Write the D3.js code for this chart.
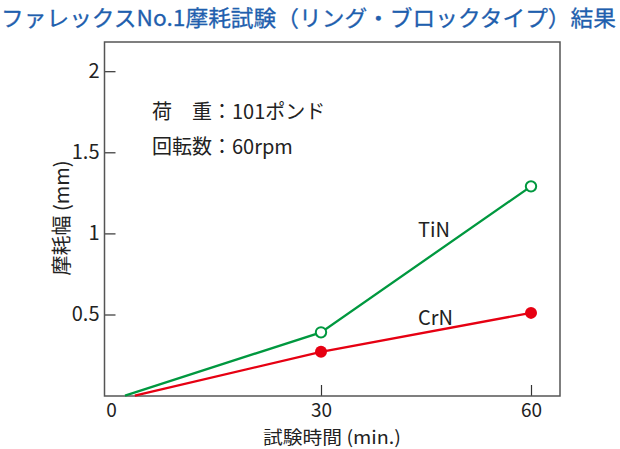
<!DOCTYPE html>
<html><head><meta charset="utf-8">
<script src="https://cdn.jsdelivr.net/npm/d3@7"></script>
<style>
html,body{margin:0;padding:0;background:#fff;}
svg{display:block;font-family:"Noto Sans CJK JP","Noto Sans",sans-serif;}
</style></head>
<body><svg id="c" width="620" height="449"></svg>
<script>
// ---- data ----
const titleText = "ファレックスNo.1摩耗試験（リング・ブロックタイプ）結果";
const xLabel = "試験時間 (min.)";
const yLabel = "摩耗幅 (mm)";
const xTicks = [0, 30, 60];
const yTicks = [0.5, 1, 1.5, 2];
const seriesNames = ["TiN", "CrN"];
const tinTime = [2, 30, 60];
const tinWear = [0, 0.39, 1.29];
const crnTime = [3.4, 30, 60];
const crnWear = [0, 0.27, 0.51];
const notes = ["荷　重：101ポンド", "回転数：60rpm"];

const svg = d3.select("#c");
const box = {l: 104.5, r: 560, t: 42, b: 396};
const x = d3.scaleLinear().domain([0, 60]).range([111, 531]);
const y = d3.scaleLinear().domain([0, 2]).range([395.6, 71.2]);
const txt = "#222";

// title
svg.append("text").attr("x", 1).attr("y", 26).attr("font-size", 22)
  .attr("fill", "#1f5fae").attr("textLength", 615).attr("lengthAdjust", "spacingAndGlyphs")
  .attr("stroke", "#1f5fae").attr("stroke-width", 0.3)
  .text(titleText);

// axes
const gy = svg.append("g").attr("transform", `translate(${box.l},0)`)
  .call(d3.axisLeft(y).tickValues(yTicks).tickSize(-11).tickPadding(5).tickFormat(d3.format("")));
const gx = svg.append("g").attr("transform", `translate(0,${box.b})`)
  .call(d3.axisBottom(x).tickValues(xTicks).tickSize(-11).tickPadding(7).tickFormat(d3.format("")));
[gx, gy].forEach(g => {
  g.select(".domain").remove();
  g.selectAll(".tick line").attr("stroke", "#333").attr("stroke-width", 1.2);
  g.selectAll(".tick text").attr("font-size", 20).attr("fill", txt)
    .attr("font-family", "'Noto Sans CJK JP','Noto Sans',sans-serif");
});
gx.selectAll(".tick text").attr("font-size", 19);
gx.selectAll(".tick").filter(d => d === 0).select("line").remove();

// frame
svg.append("rect").attr("x", box.l).attr("y", box.t)
  .attr("width", box.r - box.l).attr("height", box.b - box.t)
  .attr("fill", "none").attr("stroke", "#555").attr("stroke-width", 1.5);

// axis labels
svg.append("text").attr("transform", "translate(69,218) rotate(-90)")
  .attr("text-anchor", "middle").attr("font-size", 20).attr("fill", txt).text(yLabel);
svg.append("text").attr("x", 332).attr("y", 443.5)
  .attr("text-anchor", "middle").attr("font-size", 18).attr("fill", txt)
  .attr("textLength", 138).attr("lengthAdjust", "spacingAndGlyphs").text(xLabel);

// notes
svg.selectAll(".note").data(notes).enter().append("text")
  .attr("x", 152).attr("y", (d, i) => 119 + i * 35)
  .attr("font-size", 20).attr("fill", txt).text(d => d);

// series
const series = [
  {name: seriesNames[0], t: tinTime, v: tinWear, color: "#00983f", open: true},
  {name: seriesNames[1], t: crnTime, v: crnWear, color: "#e60012", open: false}
];
const line = d3.line().x(d => x(d[0])).y(d => y(d[1]));
series.forEach(s => {
  const pts = s.t.map((t, i) => [t, s.v[i]]);
  svg.append("path").attr("d", line(pts)).attr("fill", "none")
    .attr("stroke", s.color).attr("stroke-width", 2.3);
  svg.selectAll(null).data(pts.filter(p => p[0] >= 30)).enter().append("circle")
    .attr("cx", d => x(d[0])).attr("cy", d => y(d[1]))
    .attr("r", s.open ? 5.2 : 6)
    .attr("fill", s.open ? "#fff" : s.color)
    .attr("stroke", s.color).attr("stroke-width", s.open ? 2 : 0);
});
// series labels
const labelPos = [{t: 45, v: 1.0}, {t: 45, v: 0.46}];
series.forEach((s, i) => {
  svg.append("text").attr("x", x(labelPos[i].t) - 8).attr("y", y(labelPos[i].v) + 4)
    .attr("font-size", 20).attr("fill", txt).text(s.name);
});
</script></body></html>
